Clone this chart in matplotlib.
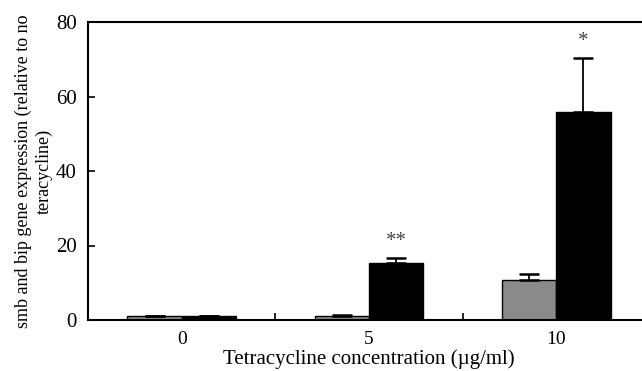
import matplotlib.pyplot as plt
import numpy as np

# tetracycline concentration groups
groups = ['0', '5', '10']
smb = [1.0, 1.0, 10.7]
smb_err = [0.0, 0.3, 1.6]
bip = [1.0, 15.3, 55.8]
bip_err = [0.0, 1.3, 14.5]
marks = ['', '**', '*']

plt.rcParams['font.family'] = ['Liberation Serif', 'DejaVu Serif']

fig = plt.figure(figsize=(6.42, 3.71), dpi=100)
ax = fig.add_axes([88 / 642, 51 / 371, 562 / 642, 298 / 371])

x = np.arange(len(groups))
w = 0.29
ekw = dict(ecolor='black', elinewidth=1.3, capsize=7, capthick=1.8)
# error bars only point upwards
ax.bar(x - w / 2, smb, w, color='#8a8a8a', edgecolor='black', linewidth=1.0,
       yerr=[np.zeros(len(smb)), smb_err], error_kw=ekw)
ax.bar(x + w / 2, bip, w, color='black', edgecolor='black', linewidth=1.0,
       yerr=[np.zeros(len(bip)), bip_err], error_kw=ekw)

for i in range(len(groups)):
    if marks[i]:
        ax.text(x[i] + w / 2, bip[i] + bip_err[i] + 2.0, marks[i],
                ha='center', va='bottom', fontsize=15, color='#444444')

ax.set_xlim(-0.5, 2.5)
ax.set_ylim(0, 80)
ax.set_yticks([0, 20, 40, 60, 80])
ax.set_xticks(x)
ax.set_xticklabels(groups)
ax.set_xticks([0.5, 1.5], minor=True)
ax.tick_params(axis='x', which='major', length=0, pad=8, labelsize=14)
ax.tick_params(axis='x', which='minor', direction='in', length=5, width=1.2)
ax.tick_params(axis='y', direction='in', length=5, width=1.2, labelsize=15, pad=8)

for s in ['left', 'bottom', 'top']:
    ax.spines[s].set_linewidth(1.5)
ax.spines['right'].set_visible(False)

ax.set_xlabel('Tetracycline concentration (µg/ml)', fontsize=15, labelpad=1)
ax.set_ylabel('smb and bip gene expression (relative to no\nteracycline)',
              fontsize=13, labelpad=2, linespacing=1.3)

fig.savefig('out.png', dpi=100)
